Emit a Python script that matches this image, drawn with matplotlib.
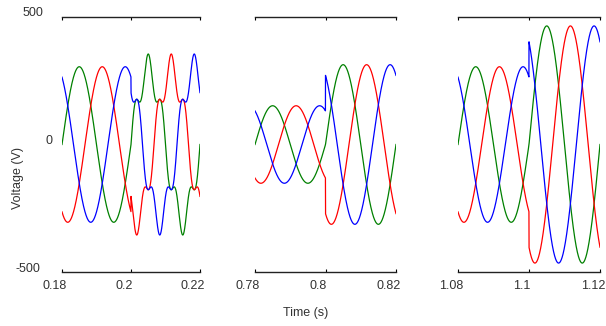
import numpy as np
import matplotlib.pyplot as plt
import matplotlib.transforms as mtransforms

plt.rcParams['font.family'] = ['Liberation Sans', 'DejaVu Sans']

# time windows shown in each panel and the instant where the source changes
windows = [(0.18, 0.22), (0.78, 0.82), (1.08, 1.12)]
events = [0.20, 0.80, 1.10]
xticks = [[0.18, 0.2, 0.22], [0.78, 0.8, 0.82], [1.08, 1.1, 1.12]]
xticklabels = [['0.18', '0.2', '0.22'], ['0.78', '0.8', '0.82'], ['1.08', '1.1', '1.12']]

# fundamental / 5th harmonic amplitude (V) before and after each event
amp_before = [305, 152, 305]
amp_after = [295, 313, 465]
h5_before = [0, 0, 0]
h5_after = [60, 0, 0]

freq = 50.0
phase_shift = [0, -120, -240]          # a, b, c
colors = ['#008000', '#ff0000', '#0000ff']

yticks = [-500, 0, 500]
yticklabels = ['-500', '0', '500']
ylab_dx = [-5, 7, -2]                  # px nudges for the y labels


def phase_voltage(t, t0, ev, k, a1b, a5b, a1a, a5a):
    th = 2 * np.pi * freq * (t - t0) + np.deg2rad(phase_shift[k])
    before = a1b * np.sin(th) + a5b * np.sin(5 * th)
    after = a1a * np.sin(th) + a5a * np.sin(5 * th)
    return np.where(t < ev, before, after)


fig = plt.figure(figsize=(6.06, 3.26), dpi=100)
lefts = [62, 255, 458]
widths = [138, 141, 142]
W, H = 606, 326

for i, (t0, t1) in enumerate(windows):
    ax = fig.add_axes([lefts[i] / W, 1 - 272 / H, widths[i] / W, 255 / H])
    t = np.linspace(t0, t1, 2001)
    for k in range(3):
        v = phase_voltage(t, t0, events[i], k, amp_before[i], h5_before[i],
                          amp_after[i], h5_after[i])
        ax.plot(t, v, color=colors[k], lw=0.9)
    ax.set_xlim(t0, t1)
    ax.set_ylim(-500, 500)
    for s in ['left', 'right']:
        ax.spines[s].set_visible(False)
    for s in ['top', 'bottom']:
        ax.spines[s].set_linewidth(1.0)
        ax.spines[s].set_color('#222222')
    ax.set_xticks(xticks[i])
    ax.set_xticklabels(xticklabels[i])
    ax.tick_params(axis='x', direction='in', length=2.5, width=0.8, top=True,
                   labelsize=9, labelcolor='#333333', pad=6)
    dx = mtransforms.ScaledTranslation(-7 / 100, 0, fig.dpi_scale_trans)
    for lab in ax.get_xticklabels():
        lab.set_transform(lab.get_transform() + dx)
    if i == 0:
        ax.set_yticks(yticks)
        ax.set_yticklabels(yticklabels)
        ax.tick_params(axis='y', length=0, labelsize=9, labelcolor='#333333', pad=12)
        for lab, nx in zip(ax.get_yticklabels(), ylab_dx):
            off = mtransforms.ScaledTranslation(nx / 100, 5 / 100, fig.dpi_scale_trans)
            lab.set_transform(lab.get_transform() + off)
    else:
        ax.set_yticks([])

fig.text(18 / W, 1 - 178 / H, 'Voltage (V)', rotation=90, ha='center', va='center',
         fontsize=9, color='#333333')
fig.text(306 / W, 1 - 313 / H, 'Time (s)', ha='center', va='center',
         fontsize=9, color='#333333')

fig.savefig('out.png', dpi=100)
